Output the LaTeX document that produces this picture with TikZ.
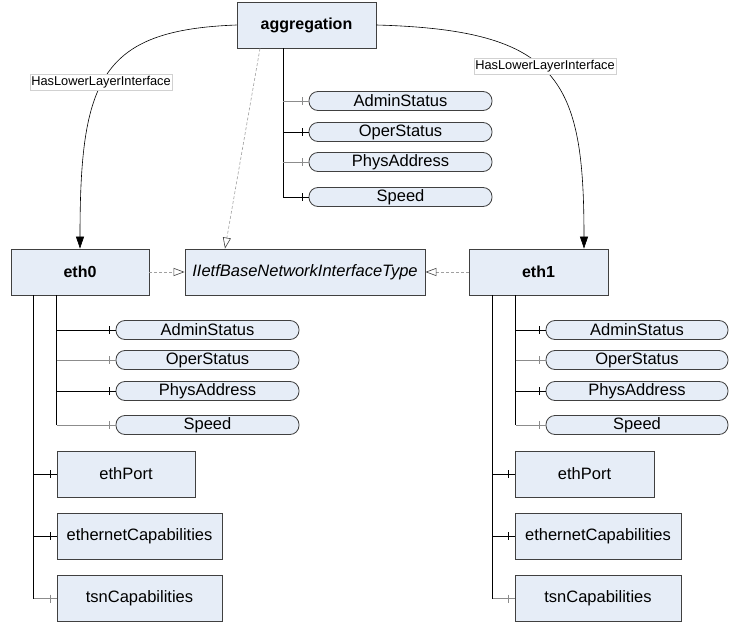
\documentclass[tikz,border=0pt]{standalone}
\usepackage{fontspec}
\setmainfont{Liberation Sans}
\usetikzlibrary{arrows.meta,backgrounds}
\definecolor{boxfill}{HTML}{E6EDF7}
\definecolor{boxline}{HTML}{404040}
\definecolor{shadowc}{HTML}{D9DCE1}
\definecolor{lightln}{HTML}{8C8C8C}
\definecolor{dashc}{HTML}{A0A0A0}
\newcommand{\mybranch}[3]{%
  \draw[#3] (#1 |- #2.west) -- (#2.west);
  \draw[#3] ([shift={(-6,-4)}]#2.west) -- ++(0,8);
}
\begin{document}
\begin{tikzpicture}[x=1pt,y=-1pt,
  cls/.style={draw=boxline, fill=boxfill, line width=0.8pt, minimum width=#1,
    minimum height=46pt, inner sep=0pt, font=\fontsize{16.5}{18}\selectfont},
  mainbox/.style={cls=#1, font=\fontsize{16}{18}\selectfont\bfseries},
  pill/.style={draw=boxline, fill=boxfill, line width=0.8pt, rounded corners=9pt,
    minimum width=#1, minimum height=19pt, inner sep=0pt,
    font=\fontsize{16.5}{18}\selectfont},
  lbl/.style={draw=black!18, fill=white, inner sep=1pt, minimum height=16pt,
    font=\fontsize{12.8}{14}\selectfont},
  dk/.style={draw=black, line width=0.9pt},
  lt/.style={draw=lightln, line width=0.9pt},
  solidarrow/.style={draw=black, line width=0.6pt, -{Triangle[length=12pt,width=8pt]}},
  dasharrow/.style={draw=dashc, line width=0.6pt, dash pattern=on 3pt off 2pt,
    -{Triangle[open,length=11pt,width=8pt,color=boxline]}},
]
\useasboundingbox (0,0) rectangle (732,624);
\fill[white] (0,0) rectangle (732,624);

% main classes
\node[mainbox=139pt] (agg) at (306.5,25) {aggregation};
\node[mainbox=138pt] (eth0) at (80,272) {eth0};
\node[mainbox=139pt] (eth1) at (538.5,272) {eth1};
\node[cls=240pt, font=\fontsize{16.5}{18}\selectfont\itshape] (iietf) at (305,272) {IIetfBaseNetworkInterfaceType};
\begin{scope}[on background layer]
  \fill[shadowc] ([shift={(15,15)}]iietf.north west) rectangle ([shift={(15,15)}]iietf.south east);
\end{scope}

% aggregation attributes
\node[pill=183pt] (a1) at (400.5,101) {AdminStatus};
\node[pill=183pt] (a2) at (400.5,132) {OperStatus};
\node[pill=183pt] (a3) at (400.5,162) {PhysAddress};
\node[pill=183pt] (a4) at (400.5,197) {Speed};

% eth0 attributes
\node[pill=183pt] (b1) at (207.5,330) {AdminStatus};
\node[pill=183pt] (b2) at (207.5,360) {OperStatus};
\node[pill=183pt] (b3) at (207.5,391) {PhysAddress};
\node[pill=183pt] (b4) at (207.5,425) {Speed};

% eth1 attributes
\node[pill=182pt] (c1) at (637,330) {AdminStatus};
\node[pill=182pt] (c2) at (637,360) {OperStatus};
\node[pill=182pt] (c3) at (637,391) {PhysAddress};
\node[pill=182pt] (c4) at (637,425) {Speed};

% eth0 children
\node[cls=138pt] (b5) at (126,474) {ethPort};
\node[cls=165pt] (b6) at (139.5,536) {ethernetCapabilities};
\node[cls=165pt] (b7) at (139.5,598.5) {tsnCapabilities};

% eth1 children
\node[cls=139pt] (c5) at (584.5,474) {ethPort};
\node[cls=166pt] (c6) at (598,536) {ethernetCapabilities};
\node[cls=166pt] (c7) at (598,598.5) {tsnCapabilities};

% trunks
\coordinate (aT) at ([xshift=46.5pt]agg.south west);
\coordinate (bT) at ([xshift=46pt]eth0.south west);
\coordinate (bO) at ([xshift=23pt]eth0.south west);
\coordinate (cT) at ([xshift=47pt]eth1.south west);
\coordinate (cO) at ([xshift=24pt]eth1.south west);

\draw[dk] (aT) -- (aT |- a4.west);
\draw[dk] (bT) -- (bT |- b4.west);
\draw[dk] (bO) -- (bO |- b7.west);
\draw[dk] (cT) -- (cT |- c4.west);
\draw[dk] (cO) -- (cO |- c7.west);

\mybranch{aT}{a1}{lt}
\mybranch{aT}{a2}{dk}
\mybranch{aT}{a3}{lt}
\mybranch{aT}{a4}{dk}
\mybranch{bT}{b1}{dk}
\mybranch{bT}{b2}{lt}
\mybranch{bT}{b3}{dk}
\mybranch{bT}{b4}{lt}
\mybranch{cT}{c1}{dk}
\mybranch{cT}{c2}{lt}
\mybranch{cT}{c3}{dk}
\mybranch{cT}{c4}{lt}
\mybranch{bO}{b5}{dk}
\mybranch{bO}{b6}{dk}
\mybranch{bO}{b7}{lt}
\mybranch{cO}{c5}{dk}
\mybranch{cO}{c6}{dk}
\mybranch{cO}{c7}{lt}

% generalisations
\draw[dasharrow] ([xshift=-46.5pt]agg.south) -- ([xshift=-80pt]iietf.north);
\draw[dasharrow] (eth0.east) -- (iietf.west);
\draw[dasharrow] (eth1.west) -- (iietf.east);

% associations
\draw[solidarrow] (agg.west) .. controls (100,30) and (80,80) .. (eth0.north);
\draw[solidarrow] (agg.east) .. controls (560,30) and (584,80) .. ([xshift=45.5pt]eth1.north);
\node[lbl] (l1) at (101,82) {HasLowerLayerInterface};
\node[lbl] (l2) at (545,66) {HasLowerLayerInterface};
\end{tikzpicture}
\end{document}
